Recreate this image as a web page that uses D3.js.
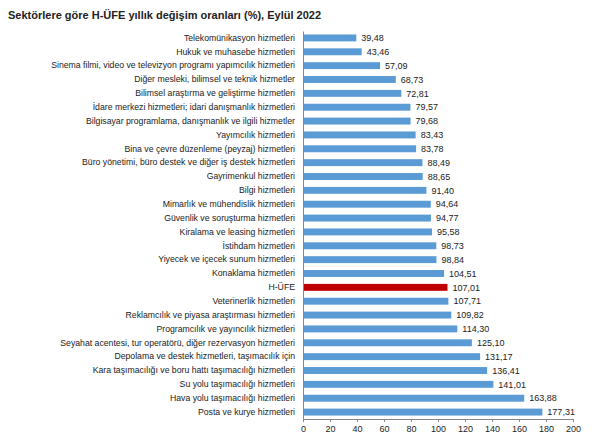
<!DOCTYPE html>
<html><head><meta charset="utf-8">
<script src="https://cdn.jsdelivr.net/npm/d3@7"></script>
<style>body{margin:0;background:#fff}svg{display:block;font-family:"Liberation Sans",Arial,sans-serif}</style>
</head><body><svg id="c" width="600" height="444"></svg>
<script>
const title = "Sektörlere göre H-ÜFE yıllık değişim oranları (%), Eylül 2022";
const categories = [
"Telekomünikasyon hizmetleri",
"Hukuk ve muhasebe hizmetleri",
"Sinema filmi, video ve televizyon programı yapımcılık hizmetleri",
"Diğer mesleki, bilimsel ve teknik hizmetler",
"Bilimsel araştırma ve geliştirme hizmetleri",
"İdare merkezi hizmetleri; idari danışmanlık hizmetleri",
"Bilgisayar programlama, danışmanlık ve ilgili hizmetler",
"Yayımcılık hizmetleri",
"Bina ve çevre düzenleme (peyzaj) hizmetleri",
"Büro yönetimi, büro destek ve diğer iş destek hizmetleri",
"Gayrimenkul hizmetleri",
"Bilgi hizmetleri",
"Mimarlık ve mühendislik hizmetleri",
"Güvenlik ve soruşturma hizmetleri",
"Kiralama ve leasing hizmetleri",
"İstihdam hizmetleri",
"Yiyecek ve içecek sunum hizmetleri",
"Konaklama hizmetleri",
"H-ÜFE",
"Veterinerlik hizmetleri",
"Reklamcılık ve piyasa araştırması hizmetleri",
"Programcılık ve yayıncılık hizmetleri",
"Seyahat acentesi, tur operatörü, diğer rezervasyon hizmetleri",
"Depolama ve destek hizmetleri, taşımacılık için",
"Kara taşımacılığı ve boru hattı taşımacılığı hizmetleri",
"Su yolu taşımacılığı hizmetleri",
"Hava yolu taşımacılığı hizmetleri",
"Posta ve kurye hizmetleri"
];
const values = [39.48,43.46,57.09,68.73,72.81,79.57,79.68,83.43,83.78,88.49,88.65,91.40,94.64,94.77,95.58,98.73,98.84,104.51,107.01,107.71,109.82,114.30,125.10,131.17,136.41,141.01,163.88,177.31];
const highlight = "H-ÜFE";
const xTicks = [0,20,40,60,80,100,120,140,160,180,200];

const svg = d3.select("#c");
const x = d3.scaleLinear().domain([0,200]).range([303,573]);
const y = d3.scaleBand().domain(categories).range([31,419]).paddingInner(0.5).paddingOuter(0.25);

svg.append("text").attr("x",8).attr("y",19).attr("font-size",11).attr("font-weight","bold")
  .attr("fill","#222").text(title);

const data = categories.map((c,i)=>({c,v:values[i]}));

svg.append("g").selectAll("rect").data(data).join("rect")
  .attr("x",x(0)).attr("y",d=>y(d.c)).attr("width",d=>x(d.v)-x(0)).attr("height",y.bandwidth())
  .attr("fill",d=>d.c===highlight?"#c00000":"#5b9bd5");

svg.append("g").selectAll("text").data(data).join("text")
  .attr("x",d=>x(d.v)+5).attr("y",d=>y(d.c)+y.bandwidth()/2).attr("dy","0.35em")
  .attr("font-size",9).attr("fill","#222")
  .text(d=>d3.format(".2f")(d.v).replace(".",","));

const yAxis = d3.axisLeft(y).tickSize(0).tickPadding(8);
const gy = svg.append("g").attr("transform",`translate(${x(0)},0)`).call(yAxis);
gy.select(".domain").attr("stroke","#888");
gy.selectAll("text").attr("font-size",8.7).attr("fill","#222").attr("font-family","Liberation Sans, Arial, sans-serif");

const xAxis = d3.axisBottom(x).tickValues(xTicks).tickSize(3).tickSizeOuter(0).tickPadding(4);
const gx = svg.append("g").attr("transform",`translate(0,419)`).call(xAxis);
gx.select(".domain").attr("stroke","#888");
gx.selectAll(".tick line").attr("stroke","#888");
gx.selectAll("text").attr("font-size",9).attr("fill","#222").attr("font-family","Liberation Sans, Arial, sans-serif");
</script></body></html>
